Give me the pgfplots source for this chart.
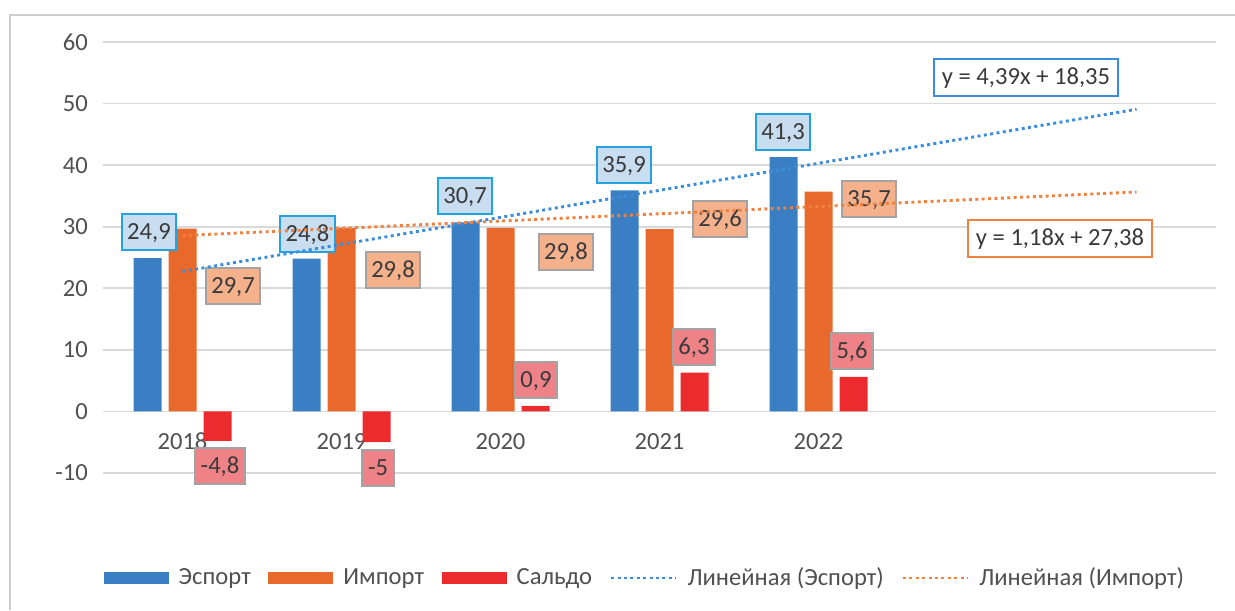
\documentclass[border=0pt]{standalone}
\usepackage{pgfplots}
\pgfplotsset{compat=1.18}
\usepackage{fontspec}
\setmainfont{Carlito}
\definecolor{cexp}{HTML}{3A7FC3}
\definecolor{cimp}{HTML}{E8692B}
\definecolor{csal}{HTML}{EC2B2E}
\definecolor{ctrb}{HTML}{3C8DD9}
\definecolor{ctro}{HTML}{F0813F}
\definecolor{lblb}{HTML}{C8DDF0}
\definecolor{lblbd}{HTML}{22A3E0}
\definecolor{lblo}{HTML}{F4B18C}
\definecolor{lblr}{HTML}{EF8287}
\definecolor{lblgd}{HTML}{A3A3A3}
\definecolor{txt}{HTML}{505050}
\definecolor{ltxt}{HTML}{3A3A3A}
\definecolor{grd}{HTML}{D9D9D9}
\definecolor{frm}{HTML}{CDCDCD}
\begin{document}
\begin{tikzpicture}[font=\fontsize{12.3}{14.6}\selectfont,
  lbl/.style={draw=lblgd, line width=1pt, text=ltxt, inner xsep=2.8pt, inner ysep=4.3pt, text height=8.4pt, text depth=1pt},
  lblE/.style={lbl, fill=lblb, draw=lblbd},
  lblI/.style={lbl, fill=lblo},
  lblS/.style={lbl, fill=lblr},
  eq/.style={fill=white, line width=1pt, text=ltxt, inner xsep=4pt, inner ysep=4.3pt, text height=8.4pt, text depth=1.5pt}]
\useasboundingbox (0,0) rectangle (617.5pt,305pt);
\draw[frm, line width=1pt] (5pt,0pt) -- (5pt,297.5pt) -- (617.5pt,297.5pt);
\begin{axis}[
  at={(51.5pt,68.5pt)}, anchor=south west,
  width=556.5pt, height=215.5pt, scale only axis,
  xmin=0.5, xmax=7.5, ymin=-10, ymax=60,
  ytick={-10,0,10,20,30,40,50,60},
  yticklabels={-10,0,10,20,30,40,50,60},
  xtick={1,2,3,4,5}, xticklabels={2018,2019,2020,2021,2022},
  axis line style={draw=none}, major tick length=0pt,
  ymajorgrids, grid style={grd, line width=0.8pt},
  tick label style={text=txt},
  yticklabel style={xshift=-4pt},
  xticklabel style={yshift=23.5pt},
  clip=false,
  legend columns=5,
  legend style={at={(0.4878,-0.2436)}, anchor=center, draw=none, fill=none,
    text=txt, /tikz/every even column/.append style={column sep=6.8pt}},
  legend cell align=left,
]
\addplot[ybar, bar width=14pt, bar shift=-17.5pt, fill=cexp, draw=none,
  legend image code/.code={\fill[cexp] (0pt,-3pt) rectangle (32.5pt,3pt); \path (35.5pt,0pt);}]
  coordinates {(1,24.9) (2,24.8) (3,30.7) (4,35.9) (5,41.3)};
\addlegendentry{Эспорт}
\addplot[ybar, bar width=14pt, bar shift=0pt, fill=cimp, draw=none,
  legend image code/.code={\fill[cimp] (0pt,-3pt) rectangle (32.5pt,3pt); \path (35.5pt,0pt);}]
  coordinates {(1,29.7) (2,29.8) (3,29.8) (4,29.6) (5,35.7)};
\addlegendentry{Импорт}
\addplot[ybar, bar width=14pt, bar shift=17.5pt, fill=csal, draw=none,
  legend image code/.code={\fill[csal] (0pt,-3pt) rectangle (32.5pt,3pt); \path (35.5pt,0pt);}]
  coordinates {(1,-4.8) (2,-5) (3,0.9) (4,6.3) (5,5.6)};
\addlegendentry{Сальдо}

\node[lblE] at (axis cs:0.789,29.07) {24,9};
\node[lblE] at (axis cs:1.786,28.83) {24,8};
\node[lblE] at (axis cs:2.777,34.92) {30,7};
\node[lblE] at (axis cs:3.777,39.95) {35,9};
\node[lblE] at (axis cs:4.777,45.31) {41,3};

\node[lblI] at (axis cs:1.318,20.30) {29,7};
\node[lblI] at (axis cs:2.324,22.90) {29,8};
\node[lblI] at (axis cs:3.412,25.82) {29,8};
\node[lblI] at (axis cs:4.381,31.18) {29,6};
\node[lblI] at (axis cs:5.318,34.43) {35,7};

\node[lblS] at (axis cs:1.236,-8.93) {-4,8};
\node[lblS] at (axis cs:2.230,-9.26) {-5};
\node[lblS] at (axis cs:3.223,5.03) {0,9};
\node[lblS] at (axis cs:4.217,10.39) {6,3};
\node[lblS] at (axis cs:5.211,9.75) {5,6};

\addplot[ctrb, line width=1.45pt, dash pattern=on 1.5pt off 1.7pt,
  legend image code/.code={\draw[ctrb, line width=1.45pt, dash pattern=on 1.5pt off 1.7pt] (0pt,0pt) -- (32.5pt,0pt); \path (35.5pt,0pt);}]
  coordinates {(1,22.74) (7,49.08)};
\addlegendentry{Линейная (Эспорт)}
\addplot[ctro, line width=1.45pt, dash pattern=on 1.5pt off 1.7pt,
  legend image code/.code={\draw[ctro, line width=1.45pt, dash pattern=on 1.5pt off 1.7pt] (0pt,0pt) -- (32.5pt,0pt); \path (35.5pt,0pt);}]
  coordinates {(1,28.56) (7,35.64)};
\addlegendentry{Линейная (Импорт)}

\node[eq, draw=ctrb] at (axis cs:6.305,54.25) {y = 4,39x + 18,35};
\node[eq, draw=ctro] at (axis cs:6.519,28.10) {y = 1,18x + 27,38};
\end{axis}
\end{tikzpicture}
\end{document}
